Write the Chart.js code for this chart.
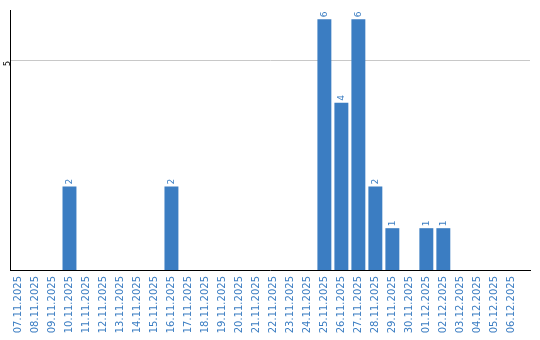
<!DOCTYPE html>
<html>
<head>
<meta charset="utf-8">
<style>
  html, body { margin: 0; padding: 0; background: #fff; }
  canvas { display: block; }
</style>
<script src="https://cdn.jsdelivr.net/npm/chart.js@4/dist/chart.umd.min.js"></script>
</head>
<body>
<canvas id="chart" width="540" height="340"></canvas>
<script>
const dates = [
  '07.11.2025', '08.11.2025', '09.11.2025', '10.11.2025', '11.11.2025',
  '12.11.2025', '13.11.2025', '14.11.2025', '15.11.2025', '16.11.2025',
  '17.11.2025', '18.11.2025', '19.11.2025', '20.11.2025', '21.11.2025',
  '22.11.2025', '23.11.2025', '24.11.2025', '25.11.2025', '26.11.2025',
  '27.11.2025', '28.11.2025', '29.11.2025', '30.11.2025', '01.12.2025',
  '02.12.2025', '03.12.2025', '04.12.2025', '05.12.2025', '06.12.2025',
];
const counts = [
  0, 0, 0, 2, 0, 0, 0, 0, 0, 2,
  0, 0, 0, 0, 0, 0, 0, 0, 6, 4,
  6, 2, 1, 0, 1, 1, 0, 0, 0, 0,
];
const yTicks = [5];

const blue = 'rgb(59, 125, 194)';

// value labels above bars, rotated like the axis labels
const barLabels = {
  id: 'barLabels',
  afterDatasetsDraw(chart) {
    const ctx = chart.ctx;
    const meta = chart.getDatasetMeta(0);
    ctx.save();
    ctx.fillStyle = blue;
    ctx.font = '9px "DejaVu Sans"';
    ctx.textAlign = 'left';
    ctx.textBaseline = 'middle';
    meta.data.forEach((bar, i) => {
      if (!counts[i]) return;
      ctx.save();
      ctx.translate(bar.x, bar.y - 2);
      ctx.rotate(-Math.PI / 2);
      ctx.fillText(String(counts[i]), 0, 0);
      ctx.restore();
    });
    ctx.restore();
  },
};

new Chart(document.getElementById('chart'), {
  type: 'bar',
  data: {
    datasets: [
      {
        data: counts.map((v, i) => ({ x: i, y: v })),
        backgroundColor: blue,
        borderWidth: 0,
        barPercentage: 0.82,
        categoryPercentage: 1,
      },
    ],
  },
  plugins: [barLabels],
  options: {
    responsive: false,
    animation: false,
    layout: { padding: { top: 10, right: 10, left: 0, bottom: 0 } },
    plugins: {
      legend: { display: false },
      tooltip: { enabled: false },
    },
    scales: {
      x: {
        type: 'linear',
        offset: false,
        min: -0.5,
        max: 30.1,
        grid: { display: false, drawTicks: false },
        border: { color: '#000', width: 1 },
        afterBuildTicks: (axis) => {
          axis.ticks = dates.map((d, i) => ({ value: i }));
        },
        afterFit: (axis) => {
          axis.height = 70;
        },
        ticks: {
          autoSkip: false,
          minRotation: 90,
          maxRotation: 90,
          padding: 6,
          color: blue,
          font: { family: 'DejaVu Sans', size: 10 },
          callback: (v) => dates[v],
        },
      },
      y: {
        min: 0,
        max: 6.22,
        grid: { color: '#c8c8c8', drawTicks: false },
        border: { color: '#000', width: 1 },
        afterBuildTicks: (axis) => {
          axis.ticks = yTicks.map((v) => ({ value: v }));
        },
        afterFit: (axis) => {
          axis.width = 10;
        },
        ticks: {
          minRotation: 90,
          maxRotation: 90,
          padding: 2,
          color: '#000',
          font: { family: 'DejaVu Sans', size: 8 },
        },
      },
    },
  },
});
</script>
</body>
</html>
